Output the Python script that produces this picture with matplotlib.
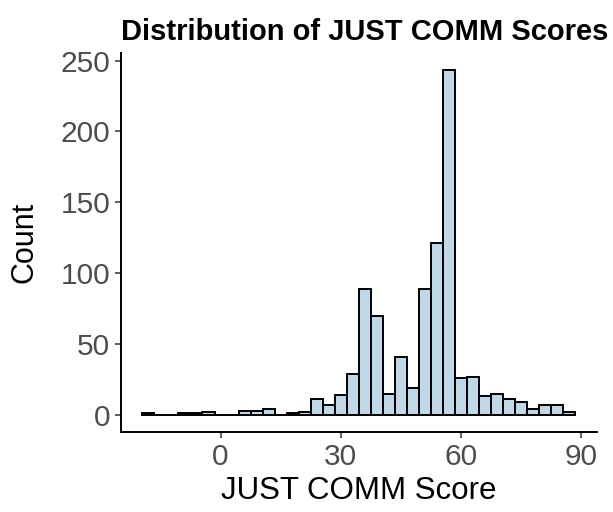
import matplotlib
matplotlib.use("Agg")
import matplotlib.pyplot as plt

plt.rcParams['font.family'] = ['Liberation Sans', 'DejaVu Sans']

# histogram of scores, bin width 3 (bin centres -18 .. 87)
bin_centers = list(range(-18, 90, 3))
counts = [1, 0, 0, 1, 1, 2, 0, 0, 3, 3, 4, 0, 1, 2, 11, 7, 14, 29, 89, 70,
          15, 41, 19, 89, 121, 243, 26, 27, 13, 15, 11, 9, 4, 7, 7, 2]
x_ticks = [0, 30, 60, 90]
y_ticks = [0, 50, 100, 150, 200, 250]

fig = plt.figure(figsize=(6.13, 5.12), dpi=100)
ax = fig.add_axes([0.197, 0.156, 0.7765, 0.740])

ax.bar(bin_centers, counts, width=3, color='#BFD8E7', edgecolor='black',
       linewidth=1.4, align='center')

lo, hi = bin_centers[0] - 1.5, bin_centers[-1] + 1.5
pad = (hi - lo) * 0.05
ax.set_xlim(lo - pad, hi + pad)
ymax = max(counts)
ax.set_ylim(-ymax * 0.05, ymax * 1.05)

ax.set_xticks(x_ticks)
ax.set_yticks(y_ticks)
ax.tick_params(axis='both', labelsize=21.5, labelcolor='#4D4D4D',
               color='#333333', length=4.5, width=1.1, pad=3)

for side in ['top', 'right']:
    ax.spines[side].set_visible(False)
for side in ['left', 'bottom']:
    ax.spines[side].set_linewidth(1.4)
    ax.spines[side].set_color('black')

ax.set_xlabel('JUST COMM Score', fontsize=22.5, labelpad=4)
ax.set_ylabel('Count', fontsize=22, labelpad=15)
fig.text(365 / 613, 1 - 32 / 512, 'Distribution of JUST COMM Scores',
         fontsize=21, fontweight='bold', ha='center', va='center')

fig.savefig('out.png', dpi=100)
